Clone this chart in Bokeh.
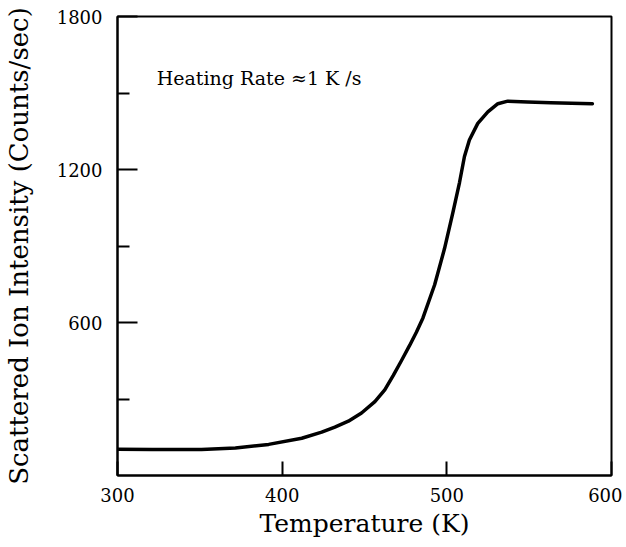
from bokeh.plotting import figure
from bokeh.models import FixedTicker, Range1d, Label
from bokeh.embed import file_html
from bokeh.resources import INLINE

# Data
temperature = [300, 321, 351, 371.6, 391.8, 411.9, 424, 432, 440.2, 448.2,
               456.3, 462.3, 467.4, 472.4, 477.4, 481.5, 485.5, 492.6, 498.6,
               503.7, 507.7, 510.7, 513.7, 518.8, 524.9, 531, 537, 549,
               563.2, 588.4]
intensity = [103, 102, 102, 108, 122, 146, 170, 190, 213, 245,
             290, 336, 392, 450, 510, 562, 618, 748, 890,
             1032, 1149, 1251, 1316, 1381, 1426, 1458, 1468, 1465,
             1462, 1458]

x_ticks = [300, 400, 500, 600]
y_major = [600, 1200, 1800]
y_minor = [300, 900, 1500]
annotation = "Heating Rate   \u22481 K /s"
x_title = "Temperature (K)"
y_title = "Scattered Ion Intensity (Counts/sec)"

FONT = "DejaVu Serif"

p = figure(width=622, height=540, output_backend="svg", toolbar_location=None,
           x_range=Range1d(300, 600), y_range=Range1d(0, 1800),
           min_border_left=115, min_border_right=11, min_border_top=16,
           min_border_bottom=60)

p.line(temperature, intensity, line_color="black", line_width=3.5,
       line_join="round", line_cap="round")

p.grid.visible = False
p.outline_line_color = "black"
p.outline_line_width = 2

xa = p.xaxis[0]
xa.ticker = FixedTicker(ticks=x_ticks, minor_ticks=[])
xa.major_tick_in = 14
xa.major_tick_out = 0
xa.minor_tick_in = 0
xa.minor_tick_out = 0
xa.major_tick_line_width = 2
xa.axis_line_width = 2
xa.major_label_standoff = 12
xa.major_label_text_font = FONT
xa.major_label_text_font_size = "18px"
xa.major_label_text_color = "black"
xa.axis_label = x_title
xa.axis_label_text_font = FONT
xa.axis_label_text_font_size = "25px"
xa.axis_label_text_font_style = "normal"
xa.axis_label_text_color = "black"
xa.axis_label_standoff = 4

ya = p.yaxis[0]
ya.ticker = FixedTicker(ticks=y_major, minor_ticks=y_minor)
ya.major_tick_in = 20
ya.major_tick_out = 0
ya.minor_tick_in = 12
ya.minor_tick_out = 0
ya.major_tick_line_width = 2
ya.minor_tick_line_width = 2
ya.minor_tick_line_color = "black"
ya.axis_line_width = 2
ya.major_label_standoff = 15
ya.major_label_text_font = FONT
ya.major_label_text_font_size = "18px"
ya.major_label_text_color = "black"
ya.axis_label = y_title
ya.axis_label_text_font = FONT
ya.axis_label_text_font_size = "26px"
ya.axis_label_text_font_style = "normal"
ya.axis_label_text_color = "black"
ya.axis_label_standoff = 20

p.add_layout(Label(x=323.8, y=1560, text=annotation, text_font=FONT,
                   text_font_size="19px", text_color="black",
                   text_baseline="middle"))

open("out.html", "w").write(file_html(p, INLINE))
